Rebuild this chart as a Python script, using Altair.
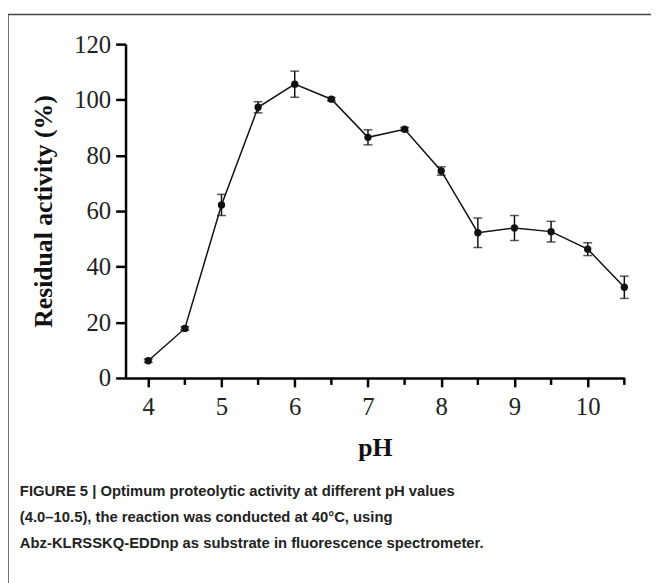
import altair as alt
import pandas as pd

ph = [4.0, 4.5, 5.0, 5.5, 6.0, 6.5, 7.0, 7.5, 8.0, 8.5, 9.0, 9.5, 10.0, 10.5]
activity = [6.2, 17.8, 62.2, 97.3, 105.6, 100.2, 86.5, 89.4, 74.4, 52.2, 53.9, 52.6, 46.3, 32.6]
error = [0.6, 0.6, 3.8, 2.0, 4.7, 0.6, 2.7, 0.6, 1.5, 5.3, 4.5, 3.7, 2.3, 4.0]
major_ticks = [4, 5, 6, 7, 8, 9, 10]
minor_ticks = [4.5, 5.5, 6.5, 7.5, 8.5, 9.5, 10.5]
y_ticks = [0, 20, 40, 60, 80, 100, 120]
caption_lines = [
    "FIGURE 5 | Optimum proteolytic activity at different pH values",
    "(4.0\u201310.5), the reaction was conducted at 40\u00b0C, using",
    "Abz-KLRSSKQ-EDDnp as substrate in fluorescence spectrometer.",
]

df = pd.DataFrame({"pH": ph, "act": activity, "err": error})
df["lo"] = df["act"] - df["err"]
df["hi"] = df["act"] + df["err"]
minor_df = pd.DataFrame({"pH": minor_ticks})

SERIF = "Liberation Serif"
xscale = alt.Scale(domain=[3.69, 10.5], nice=False, zero=False)
yscale = alt.Scale(domain=[0, 120], nice=False)

x_major = alt.X(
    "pH:Q", scale=xscale,
    axis=alt.Axis(values=major_ticks, title="pH", format="d", grid=False,
                  domainColor="black", domainWidth=2.5, tickColor="black",
                  tickWidth=2.5, tickSize=9, labelFont=SERIF, labelFontSize=25,
                  labelColor="#222", labelPadding=8, titleFont=SERIF,
                  titleFontSize=26, titleFontWeight="bold", titleColor="#111",
                  titlePadding=15),
)
y_axis = alt.Y(
    "act:Q", scale=yscale,
    axis=alt.Axis(values=y_ticks, title="Residual activity (%)", grid=False,
                  domainColor="black", domainWidth=2.5, tickColor="black",
                  tickWidth=2.5, tickSize=10, labelFont=SERIF, labelFontSize=25,
                  labelColor="#222", labelPadding=5, titleFont=SERIF,
                  titleFontSize=26, titleFontWeight="bold", titleColor="#111",
                  titlePadding=17),
)

base = alt.Chart(df)

line = base.mark_line(color="#111", strokeWidth=1.5).encode(x=x_major, y=y_axis)

minor = alt.Chart(minor_df).mark_rule(color="black", strokeWidth=2.5).encode(
    x=alt.X("pH:Q", scale=xscale), y=alt.value(338), y2=alt.value(345))

rules = base.mark_rule(color="#111", strokeWidth=1.5).encode(
    x=alt.X("pH:Q", scale=xscale), y=alt.Y("lo:Q", scale=yscale), y2="hi:Q")
caps_hi = base.mark_tick(color="#111", orient="horizontal", size=9, thickness=1.5).encode(
    x=alt.X("pH:Q", scale=xscale), y=alt.Y("hi:Q", scale=yscale))
caps_lo = base.mark_tick(color="#111", orient="horizontal", size=9, thickness=1.5).encode(
    x=alt.X("pH:Q", scale=xscale), y=alt.Y("lo:Q", scale=yscale))
points = base.mark_circle(color="#111", size=55, opacity=1).encode(
    x=alt.X("pH:Q", scale=xscale), y=alt.Y("act:Q", scale=yscale))

border_top = alt.Chart(pd.DataFrame({"a": [0]})).mark_rule(color="#444", strokeWidth=1.5).encode(
    x=alt.value(-119), x2=alt.value(560), y=alt.value(-30))
border_left = alt.Chart(pd.DataFrame({"a": [0]})).mark_rule(color="#444", strokeWidth=1.5).encode(
    x=alt.value(-119), y=alt.value(-30), y2=alt.value(560))

caption = alt.Chart(pd.DataFrame({"a": [0]})).mark_text(
    text=caption_lines, align="left", baseline="alphabetic", lineHeight=26.5,
    font="Liberation Sans Narrow, Liberation Sans, sans-serif", fontSize=15,
    fontWeight="bold", color="#222",
).encode(x=alt.value(-107), y=alt.value(457))

chart = alt.layer(
    line, minor, rules, caps_hi, caps_lo, points, border_top, border_left, caption
).properties(
    width=505, height=338,
    padding={"left": 119, "top": 33, "right": 27, "bottom": 204},
    autosize="none",
    background="white",
).configure_view(stroke="transparent", strokeWidth=0)

chart.save("out.html", embed_options={"renderer": "svg", "actions": False})
